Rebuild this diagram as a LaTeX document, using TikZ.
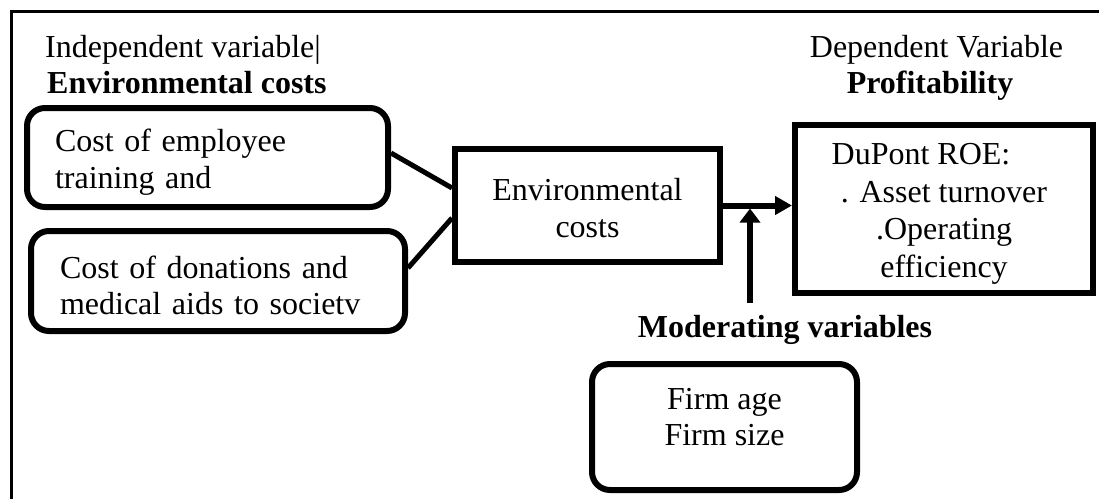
\documentclass[tikz,border=0pt]{standalone}
\usepackage{fontspec}
\setmainfont{Liberation Serif}
\usepackage{tikz}
\usetikzlibrary{arrows.meta}

\begin{document}
\begin{tikzpicture}[x=1pt, y=-1pt, font=\fontsize{32}{36.5}\selectfont]
        % Setup the style for the boxes
        \tikzset{cost style/.style={draw, rectangle,
                                    rounded corners=18pt,
                                    line width=6pt,
                                    align=left}}
        \tikzset{block style/.style={draw, rectangle,
                                    line width=6pt,
                                    align=center}}
        \tikzset{head style/.style={inner sep=0pt}}

        \useasboundingbox (0,0) rectangle (1099,499);
        \draw[line width=2.5pt] (1099,11.5) -- (11.5,11.5) -- (11.5,499);

        % Draw the headings
        \node[head style, anchor=base west] at (45,57) (indep) {Independent variable|};
        \node[head style, anchor=base west] at (47,93) (envhead) {\textbf{Environmental costs}};
        \node[head style, anchor=base] at (936.5,57) (dep) {Dependent Variable};
        \node[head style, anchor=base] at (930,93) (profit) {\textbf{Profitability}};
        \node[head style, anchor=base] at (785,337) (modvar) {\textbf{Moderating variables}};

        % Draw the boxes
        \node[cost style, inner xsep=28pt, text width=305pt, minimum height=99pt]
              at (207.5,157.5) (cost1) {\rule{0pt}{32pt}Cost of employee\\training and};
        \node[cost style, inner xsep=29pt, text width=316pt, minimum height=100pt]
              at (218,281) (cost2) {\rule{0pt}{31pt}Cost of donations and\\medical aids to societv};
        \node[block style, minimum width=265pt, minimum height=113pt]
              at (587.5,205.5) (envcost) {\rule{0pt}{27pt}Environmental\\costs};
        \node[block style, minimum width=298pt, minimum height=168pt,
              font=\fontsize{32}{37.5}\selectfont]
              at (944,209) (dupont) {\rule{0pt}{31pt}DuPont ROE:\hspace*{46pt}\\. Asset turnover\\.Operating\\efficiency};
        \node[cost style, align=center, minimum width=265pt, minimum height=126pt]
              at (724.5,427) (firm) {Firm age\\Firm size\rule[-20pt]{0pt}{20pt}};
        \coordinate (modfoot) at (750,303);

        % Connect the boxes
        \draw[line width=5pt]
              ([yshift=4.5pt]cost1.east)   edge  ([yshift=17.5pt]envcost.west)
              ([yshift=13pt]cost2.east)    edge  ([yshift=-12.5pt]envcost.west);
        \draw[line width=6pt, -{Triangle[length=17pt, width=18pt]}]
              (envcost.east) -- (envcost.east -| dupont.west);
        \draw[line width=6pt, -{Triangle[length=14pt, width=20pt]}, shorten >=3pt]
              (modfoot) -- (modfoot |- envcost.east);
\end{tikzpicture}
\end{document}
